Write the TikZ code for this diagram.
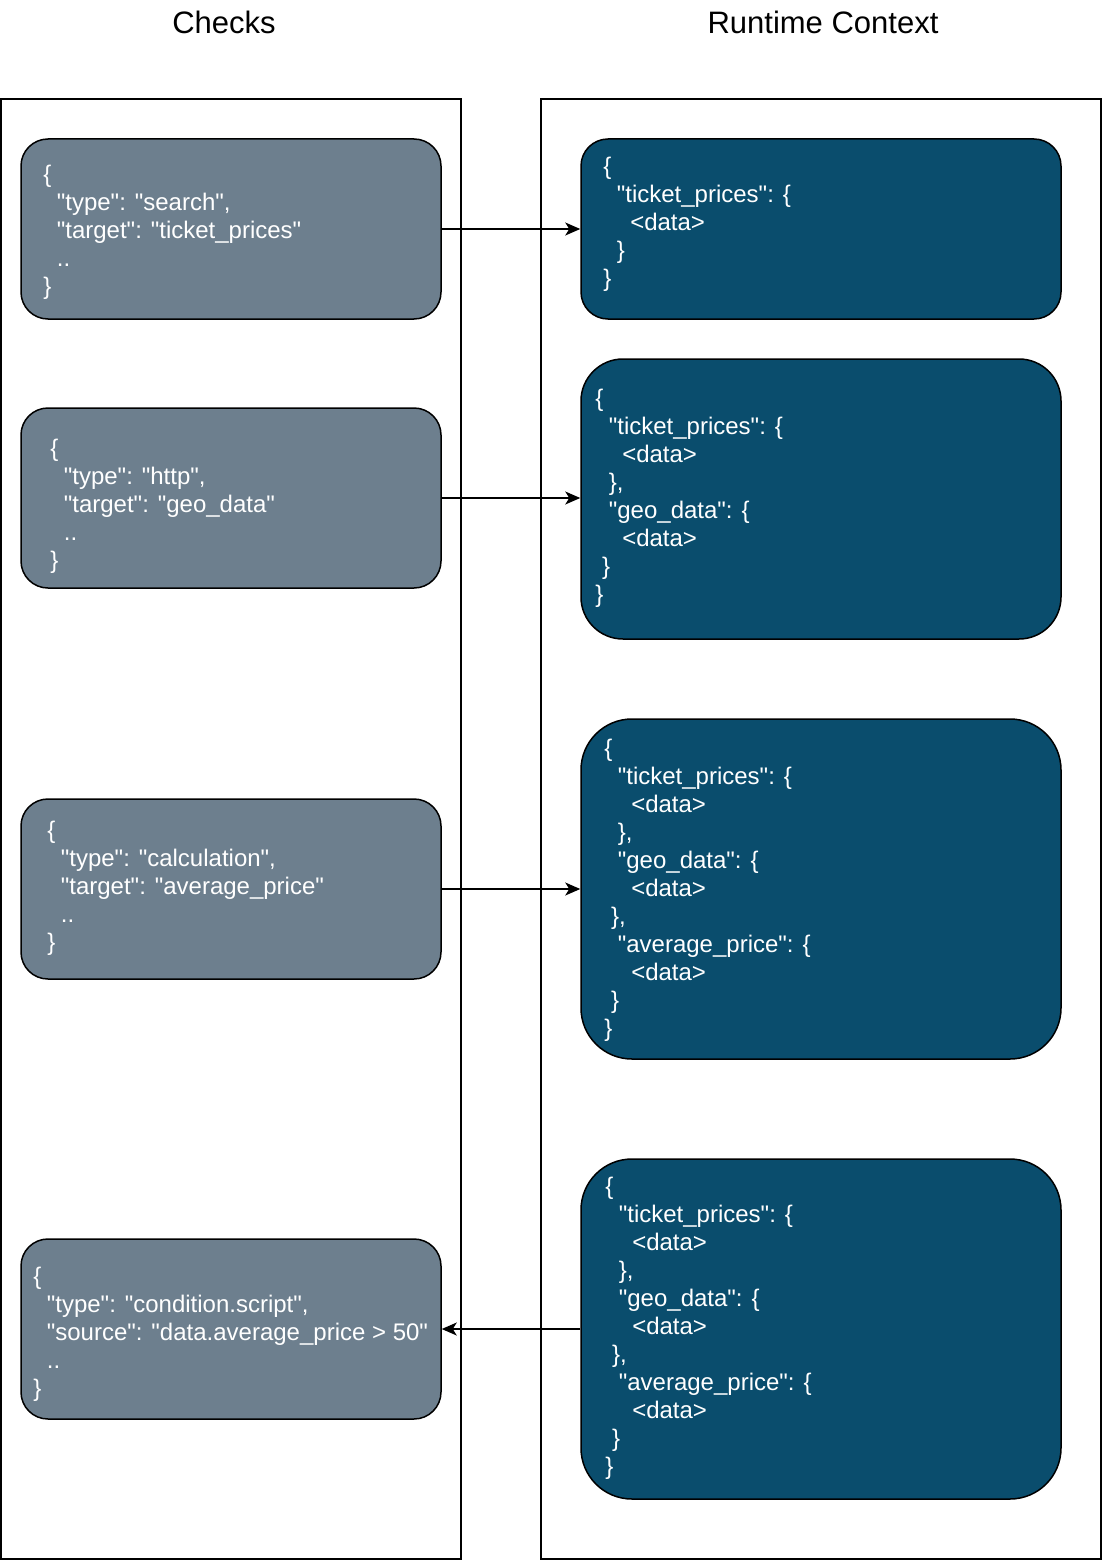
\documentclass[tikz,border=0pt]{standalone}
\usepackage{fontspec}
\newfontfamily\codefont{Liberation Sans}
\usetikzlibrary{arrows.meta}
\definecolor{chkfill}{HTML}{6D7F8E}
\definecolor{ctxfill}{HTML}{0A4D6D}
\newcommand\ind{\hspace*{6.7pt}}

\begin{document}
\begin{tikzpicture}[x=1pt,y=-1pt,
	chk/.style={draw, line width=1.5pt, fill=chkfill, rounded corners=27pt, minimum width=420pt, minimum height=180pt, inner sep=0pt},
	ctx/.style={draw, line width=1.5pt, fill=ctxfill, minimum width=480pt, inner sep=0pt},
	code/.style={anchor=west, align=left, text=white, inner sep=0pt, font=\codefont\fontsize{24}{28}\selectfont},
	title/.style={font=\codefont\fontsize{31}{36}\selectfont},
	lane/.style={draw, line width=1.5pt},
	link/.style={-{Stealth[length=15pt,width=13pt,inset=4pt]}, line width=1.4pt}]
	\useasboundingbox (0,0) rectangle (1102,1560);
	
	\node[title] (hChk) at (224,22) {Checks};
	\node[title] (hCtx) at (823,22) {Runtime Context};
	\draw[lane] (1,99) rectangle (461,1559);
	\draw[lane] (541,99) rectangle (1101,1559);
	
	\node[chk] (chkA) at (231,229) {};
	\node[chk] (chkB) at (231,498) {};
	\node[chk] (chkC) at (231,889) {};
	\node[chk] (chkD) at (231,1329) {};
	\node[ctx, minimum height=180pt, rounded corners=27pt] (ctxA) at (821,229) {};
	\node[ctx, minimum height=280pt, rounded corners=42pt] (ctxB) at (821,499) {};
	\node[ctx, minimum height=340pt, rounded corners=51pt] (ctxC) at (821,889) {};
	\node[ctx, minimum height=340pt, rounded corners=51pt] (ctxD) at (821,1329) {};
	
	\node[code, xshift=23pt, yshift=-3pt] (tChkA) at (chkA.west) {\{\\
		\ind\ind"type": "search",\\
		\ind\ind"target": "ticket\_prices"\\
		\ind\ind..\\
		\}};
	\node[code, xshift=30pt, yshift=-8pt] (tChkB) at (chkB.west) {\{\\
		\ind\ind"type": "http",\\
		\ind\ind"target": "geo\_data"\\
		\ind\ind..\\
		\}};
	\node[code, xshift=27pt, yshift=1pt] (tChkC) at (chkC.west) {\{\\
		\ind\ind"type": "calculation",\\
		\ind\ind"target": "average\_price"\\
		\ind\ind..\\
		\}};
	\node[code, xshift=13pt, yshift=-5pt] (tChkD) at (chkD.west) {\{\\
		\ind\ind"type": "condition.script",\\
		\ind\ind"source": "data.average\_price > 50"\\
		\ind\ind..\\
		\}};
	
	\node[code, xshift=23pt, yshift=5pt] (tCtxA) at (ctxA.west) {\{\\
		\ind\ind"ticket\_prices": \{\\
		\ind\ind\ind\ind<data>\\
		\ind\ind\}\\
		\}};
	\node[code, xshift=15pt, yshift=1pt] (tCtxB) at (ctxB.west) {\{\\
		\ind\ind"ticket\_prices": \{\\
		\ind\ind\ind\ind<data>\\
		\ind\ind\},\\
		\ind\ind"geo\_data": \{\\
		\ind\ind\ind\ind<data>\\
		\ind\}\\
		\}};
	\node[code, xshift=24pt, yshift=-1pt] (tCtxC) at (ctxC.west) {\{\\
		\ind\ind"ticket\_prices": \{\\
		\ind\ind\ind\ind<data>\\
		\ind\ind\},\\
		\ind\ind"geo\_data": \{\\
		\ind\ind\ind\ind<data>\\
		\ind\},\\
		\ind\ind"average\_price": \{\\
		\ind\ind\ind\ind<data>\\
		\ind\}\\
		\}};
	\node[code, xshift=25pt, yshift=1pt] (tCtxD) at (ctxD.west) {\{\\
		\ind\ind"ticket\_prices": \{\\
		\ind\ind\ind\ind<data>\\
		\ind\ind\},\\
		\ind\ind"geo\_data": \{\\
		\ind\ind\ind\ind<data>\\
		\ind\},\\
		\ind\ind"average\_price": \{\\
		\ind\ind\ind\ind<data>\\
		\ind\}\\
		\}};
	
	\draw[link] (chkA.east) -- (ctxA.west);
	\draw[link] (chkB.east) -- (chkB.east -| ctxB.west);
	\draw[link] (chkC.east) -- (ctxC.west);
	\draw[link] (ctxD.west) -- (chkD.east);
\end{tikzpicture}
\end{document}
